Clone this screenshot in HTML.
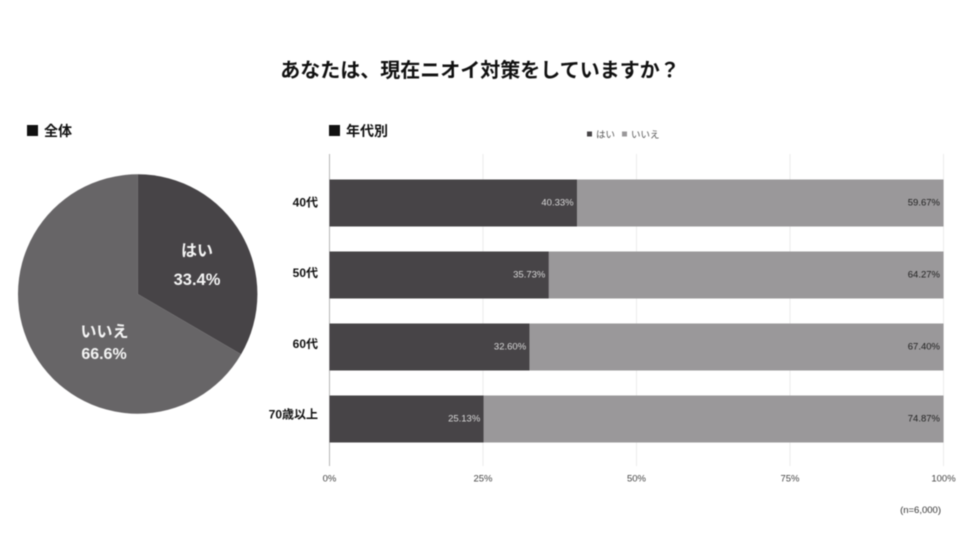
<!DOCTYPE html>
<html lang="ja">
<head>
<meta charset="utf-8">
<title>あなたは、現在ニオイ対策をしていますか？</title>
<style>
html,body{margin:0;padding:0;background:#fff;}
body{width:960px;height:540px;overflow:hidden;}
svg{display:block;filter:blur(0.5px);}
text{font-family:"Liberation Sans","Noto Sans CJK JP",sans-serif;}
</style>
</head>
<body>
<svg id="chart" width="960" height="540" viewBox="0 0 960 540" xmlns="http://www.w3.org/2000/svg">
  <rect x="0" y="0" width="960" height="540" fill="#fff"/>
  <text x="480" y="77" text-anchor="middle" font-size="20" font-weight="700" fill="#111">あなたは、現在ニオイ対策をしていますか？</text>
  <rect x="27" y="125" width="11" height="11" fill="#111"/>
  <text x="44" y="136" font-size="14" font-weight="700" fill="#111">全体</text>
  <rect x="329" y="125" width="11" height="11" fill="#111"/>
  <text x="346" y="136" font-size="14" font-weight="700" fill="#111">年代別</text>
  <g id="pie"></g>
  <g id="grid"></g>
  <g id="bars"></g>
  <g>
    <rect x="587" y="131.5" width="5" height="5" fill="#474447"/>
    <text x="596" y="138" font-size="9.5" fill="#555">はい</text>
    <rect x="622" y="131.5" width="5" height="5" fill="#9a989a"/>
    <text x="631" y="138" font-size="9.5" fill="#555">いいえ</text>
  </g>
  <text x="941" y="513" text-anchor="end" font-size="9.5" fill="#333">(n=6,000)</text>
</svg>
<script>
var pieLabels = ['はい', 'いいえ'];
var pieValues = [33.4, 66.6];
var pieValueLabels = ['33.4%', '66.6%'];
var ageCategories = ['40代', '50代', '60代', '70歳以上'];
var yesValues = [40.33, 35.73, 32.60, 25.13];
var noValues = [59.67, 64.27, 67.40, 74.87];
var axisTicks = [0, 25, 50, 75, 100];

var NS = 'http://www.w3.org/2000/svg';
function mk(tag, attrs, parent, txt) {
  var el = document.createElementNS(NS, tag);
  for (var k in attrs) el.setAttribute(k, attrs[k]);
  if (txt !== undefined) el.textContent = txt;
  parent.appendChild(el);
  return el;
}

/* pie */
var pieGroup = document.getElementById('pie');
var cx = 137.7, cy = 294, r = 119.7;
var pieColors = ['#474447', '#676567'];
var pieTotal = pieValues.reduce(function (a, b) { return a + b; }, 0);
var pieStart = 0;
var pieTextPos = [[197, 256, 197, 285, 16, 16.5], [104.5, 337, 104, 359, 16, 16]];
pieValues.forEach(function (v, i) {
  var a0 = pieStart / pieTotal * 2 * Math.PI;
  pieStart += v;
  var a1 = pieStart / pieTotal * 2 * Math.PI;
  var x0 = cx + r * Math.sin(a0), y0 = cy - r * Math.cos(a0);
  var x1 = cx + r * Math.sin(a1), y1 = cy - r * Math.cos(a1);
  var large = (a1 - a0) > Math.PI ? 1 : 0;
  var slice = mk('path', {
    d: 'M' + cx + ' ' + cy + ' L' + x0 + ' ' + y0 + ' A' + r + ' ' + r + ' 0 ' + large + ' 1 ' + x1 + ' ' + y1 + ' Z',
    fill: pieColors[i]
  }, pieGroup);
  
  
  var p = pieTextPos[i];
  var nameLabel = mk('text', { x: p[0], y: p[1], 'text-anchor': 'middle', 'font-size': p[4], 'font-weight': 700, fill: '#f4f4f4' }, pieGroup, pieLabels[i]);
  
  
  var valueLabel = mk('text', { x: p[2], y: p[3], 'text-anchor': 'middle', 'font-size': p[5], 'font-weight': 700, fill: '#f4f4f4' }, pieGroup, pieValueLabels[i]);
  
  
});

/* bars */
var x0Axis = 329.5, x100Axis = 943.5;
function xScale(v) { return x0Axis + (x100Axis - x0Axis) * v / 100; }
var bandTop = 179.5, bandStep = 72, barHeight = 47;
function yScale(i) { return bandTop + bandStep * i; }
function categoryLabelY(i) { return 206.5 + 70.7 * i; }

var gridGroup = document.getElementById('grid');
axisTicks.forEach(function (t) {
  var line = mk('line', {
    x1: xScale(t), x2: xScale(t), y1: 154, y2: 466,
    stroke: t === 0 ? '#b5b5b5' : '#ececec', 'stroke-width': 1
  }, gridGroup);
  
  
  var tick = mk('text', { x: xScale(t), y: 481.5, 'text-anchor': 'middle', 'font-size': 9.5, fill: '#444' }, gridGroup, t + '%');
  
  
});

var barGroup = document.getElementById('bars');
ageCategories.forEach(function (c, i) {
  var y = yScale(i);
  var xa = xScale(0), xb = xScale(yesValues[i]), xc = xScale(yesValues[i] + noValues[i]);
  var yesBar = mk('rect', { x: xa, y: y, width: xb - xa, height: barHeight, fill: '#474447' }, barGroup);
  
  
  var noBar = mk('rect', { x: xb, y: y, width: xc - xb, height: barHeight, fill: '#9a989a' }, barGroup);
  
  
  var yesLabel = mk('text', { x: xb - 3.5, y: y + 26, 'text-anchor': 'end', 'font-size': 9.5, fill: '#d8d8d8' }, barGroup, yesValues[i].toFixed(2) + '%');
  
  
  var noLabel = mk('text', { x: xc - 3.5, y: y + 26, 'text-anchor': 'end', 'font-size': 9.5, fill: '#222' }, barGroup, noValues[i].toFixed(2) + '%');
  
  
  var cat = mk('text', { x: 318, y: categoryLabelY(i), 'text-anchor': 'end', 'font-size': 12, 'font-weight': 700, fill: '#111' }, barGroup, c);
  
  
});
</script>
</body>
</html>
